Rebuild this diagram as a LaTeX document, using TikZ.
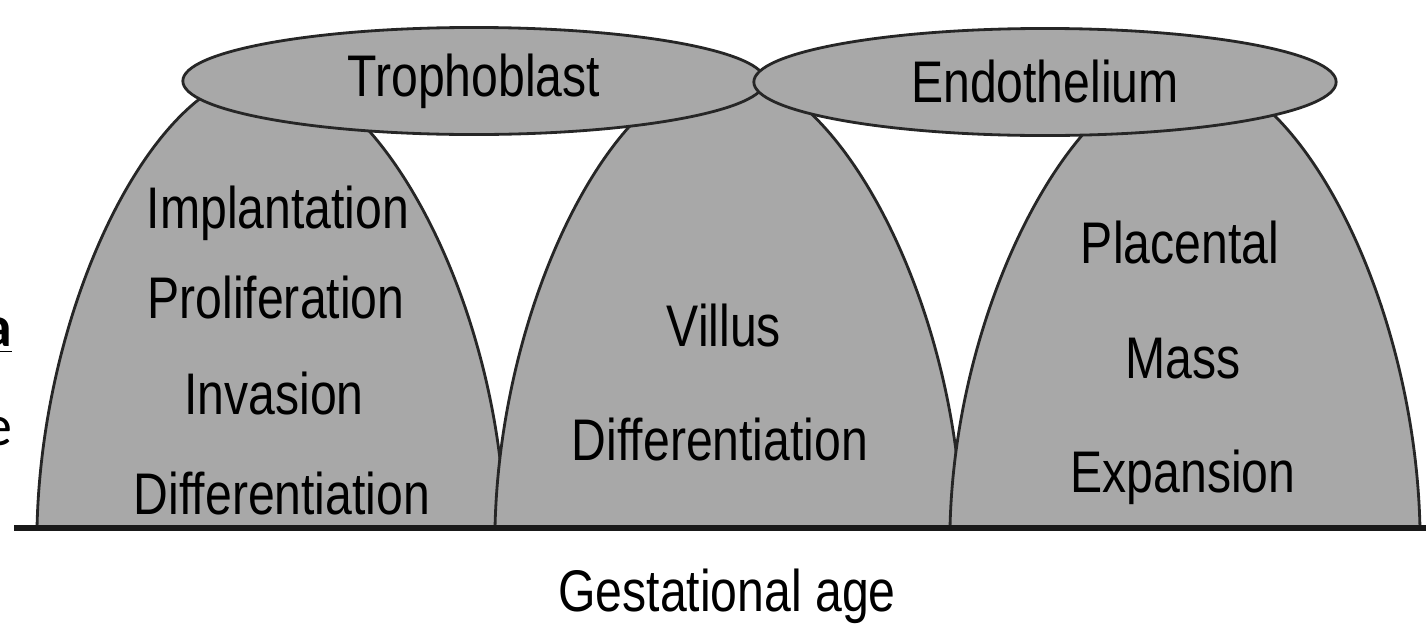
\documentclass[tikz,border=0pt]{standalone}
\usepackage{fontspec}
\setmainfont{Liberation Sans}[FakeStretch=0.82]
\newfontfamily\strayfont{Carlito}
\usetikzlibrary{shapes.geometric}
\definecolor{domegray}{RGB}{168,168,168}
\newcommand{\domefont}{\fontsize{16.7}{20}\selectfont}

\begin{document}
\begin{tikzpicture}[
        x=0.01cm, y=-0.01cm,
        dome/.style={draw=black!85, line width=0.8pt, fill=domegray},
        cell/.style={
            ellipse, draw=black!85, line width=0.8pt, fill=domegray,
            minimum width=5.82cm, minimum height=1.07cm,
            inner sep=0pt, font=\domefont
        },
        lbl/.style={anchor=base, inner sep=0pt, font=\domefont}
    ]
    \useasboundingbox (0,0) rectangle (1426,636);

    % the three phases
    \foreach \l/\c/\r in {37/267/505, 495/726/962, 950/1188/1420}
      \draw[dome] (\l,528) .. controls (\l+5,300) and (\c-110,72) .. (\c,72)
        .. controls (\c+110,72) and (\r-5,300) .. (\r,528) -- cycle;

    \node[cell] (troph) at (474,81) {Trophoblast};
    \node[cell] (endo) at (1045,82) {Endothelium};

    \node[lbl] (impl) at (278,228) {Implantation};
    \node[lbl] (prolif) at (276,318) {Proliferation};
    \node[lbl] (inv) at (274,414) {Invasion};
    \node[lbl] (diffA) at (282,514) {Differentiation};

    \node[lbl] (villus) at (724,346) {Villus};
    \node[lbl] (diffB) at (720,460) {Differentiation};

    \node[lbl] (plac) at (1180,263) {Placental};
    \node[lbl] (mass) at (1183,378) {Mass};
    \node[lbl] (expan) at (1183,492) {Expansion};

    % time axis
    \coordinate (axisL) at (14,528);
    \coordinate (axisR) at (1426,528);
    \draw[line width=1.8pt, black!90] (axisL) -- (axisR);
    \node[lbl] (gage) at (727,611) {Gestational age};

    % clipped letters at the left margin
    \node[anchor=base east, inner sep=0pt, font=\strayfont\fontsize{16.5}{20}\selectfont\bfseries] (strayA) at (13,346) {\underline{a}};
    \node[anchor=base east, inner sep=0pt, font=\strayfont\fontsize{16.5}{20}\selectfont] (strayE) at (13,445) {e};
\end{tikzpicture}
\end{document}
